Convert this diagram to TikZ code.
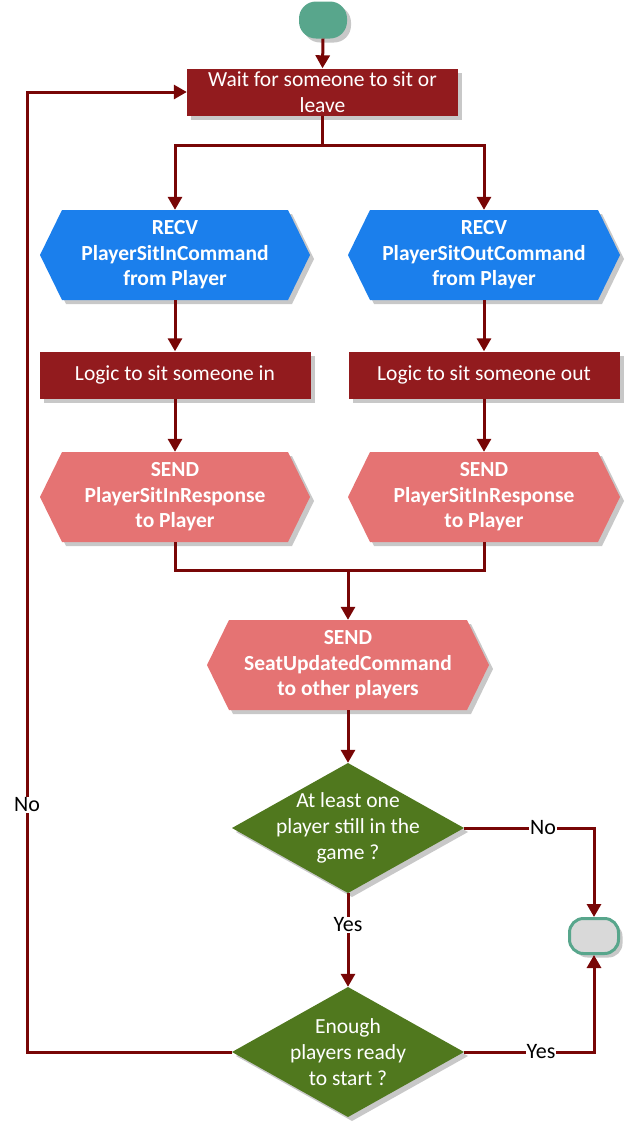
\documentclass[tikz,border=0pt]{standalone}
\usepackage{fontspec}
\setmainfont{Carlito}
\usetikzlibrary{arrows.meta,shadows,calc}
\definecolor{linec}{RGB}{120,6,6}
\definecolor{boxred}{RGB}{146,27,30}
\definecolor{recvblue}{RGB}{27,127,236}
\definecolor{sendpink}{RGB}{229,115,115}
\definecolor{decgreen}{RGB}{80,120,30}
\definecolor{termteal}{RGB}{88,166,140}
\definecolor{endgray}{RGB}{217,217,217}
\definecolor{shgray}{RGB}{200,200,200}
\newcommand\fchex[4]{%
  \fill[#4, shadowed] (#1-#3,#2) -- (#1-#3+22,#2-45) -- (#1+#3-22,#2-45) -- (#1+#3,#2) -- (#1+#3-22,#2+45) -- (#1-#3+22,#2+45) -- cycle;}
\newcommand\fcdiam[2]{%
  \fill[decgreen, shadowed] (#1-116,#2) -- (#1,#2-65) -- (#1+116,#2) -- (#1,#2+65) -- cycle;}
\tikzset{
  shadowed/.style={drop shadow={shadow xshift=4pt, shadow yshift=-4pt, fill=shgray, opacity=1}},
  conn/.style={line width=3pt, draw=linec},
  arr/.style={conn, -{Triangle[length=13pt,width=14pt]}},
  txt/.style={inner sep=0pt, align=center, text=white, font=\fontsize{21.5}{25.5}\selectfont},
  redbox/.style={txt, fill=boxred, minimum width=271pt, minimum height=47pt, shadowed},
  hexlbl/.style={txt, font=\bfseries\fontsize{21.5}{25.5}\selectfont, minimum height=90pt},
  declbl/.style={txt, font=\fontsize{21.5}{26}\selectfont, minimum width=231pt, minimum height=130pt},
  lbl/.style={fill=white, inner sep=1pt, text=black, font=\fontsize{22}{24}\selectfont},
}
\begin{document}
\begin{tikzpicture}[x=1pt,y=-1pt]
\useasboundingbox (0,0) rectangle (627,1128);
% terminals
\node[fill=termteal, rounded corners=17pt, minimum width=48pt, minimum height=37pt, inner sep=0pt, shadowed] (start) at (323,20) {};
\node[fill=endgray, draw=termteal, line width=3pt, rounded corners=14pt, minimum width=49pt, minimum height=35pt, inner sep=0pt, shadowed] (stop) at (594,936) {};
% wait box
\node[redbox] (wait) at (322.5,92) {Wait for someone to sit or\\leave};
% recv hexagons
\fchex{175}{255}{135}{recvblue}
\node[hexlbl, minimum width=270pt] (recv1) at (175,255) {RECV\\PlayerSitInCommand\\from Player};
\fchex{484}{255}{136}{recvblue}
\node[hexlbl, minimum width=272pt] (recv2) at (484,255) {RECV\\PlayerSitOutCommand\\from Player};
% logic boxes
\node[redbox] (logic1) at (175,375) {Logic to sit someone in};
\node[redbox] (logic2) at (484,375) {Logic to sit someone out};
% send hexagons
\fchex{175}{497}{135}{sendpink}
\node[hexlbl, minimum width=270pt] (send1) at (175,497) {SEND\\PlayerSitInResponse\\to Player};
\fchex{484}{497}{136}{sendpink}
\node[hexlbl, minimum width=272pt] (send2) at (484,497) {SEND\\PlayerSitInResponse\\to Player};
\fchex{348}{665}{141}{sendpink}
\node[hexlbl, minimum width=282pt] (seat) at (348,665) {SEND\\SeatUpdatedCommand\\to other players};
% decisions
\fcdiam{348}{828}
\node[declbl] (d1) at (348,828) {At least one\\player still in the\\game ?};
\fcdiam{348}{1052}
\node[declbl] (d2) at (348,1052) {Enough\\players ready\\to start ?};
% coordinates
\coordinate (split) at (322.5,145);
\coordinate (merge) at (348,570);
\coordinate (loopc) at (27,1052);
% connectors
\draw[arr] (start.south) -- (wait.north);
\draw[conn] (wait.south) -- (split);
\draw[arr] (split) -| (recv1.north);
\draw[arr] (split) -| (recv2.north);
\draw[arr] (recv1.south) -- (logic1.north);
\draw[arr] (recv2.south) -- (logic2.north);
\draw[arr] (logic1.south) -- (send1.north);
\draw[arr] (logic2.south) -- (send2.north);
\draw[conn] (send1.south) |- (merge) -| (send2.south);
\draw[arr] (merge) -- (seat.north);
\draw[arr] (seat.south) -- (d1.north);
\draw[arr] (d1.east) -| (stop.north);
\draw[arr] (d1.south) -- (d2.north);
\draw[arr] (d2.east) -| (stop.south);
\draw[arr] (d2.west) -- (loopc) |- (wait.west);
% labels
\node[lbl] (lno1) at (543,828) {No};
\node[lbl] (lyes1) at (348,925) {Yes};
\node[lbl] (lyes2) at (541,1052) {Yes};
\node[lbl] (lno2) at (27,805) {No};
\end{tikzpicture}
\end{document}
